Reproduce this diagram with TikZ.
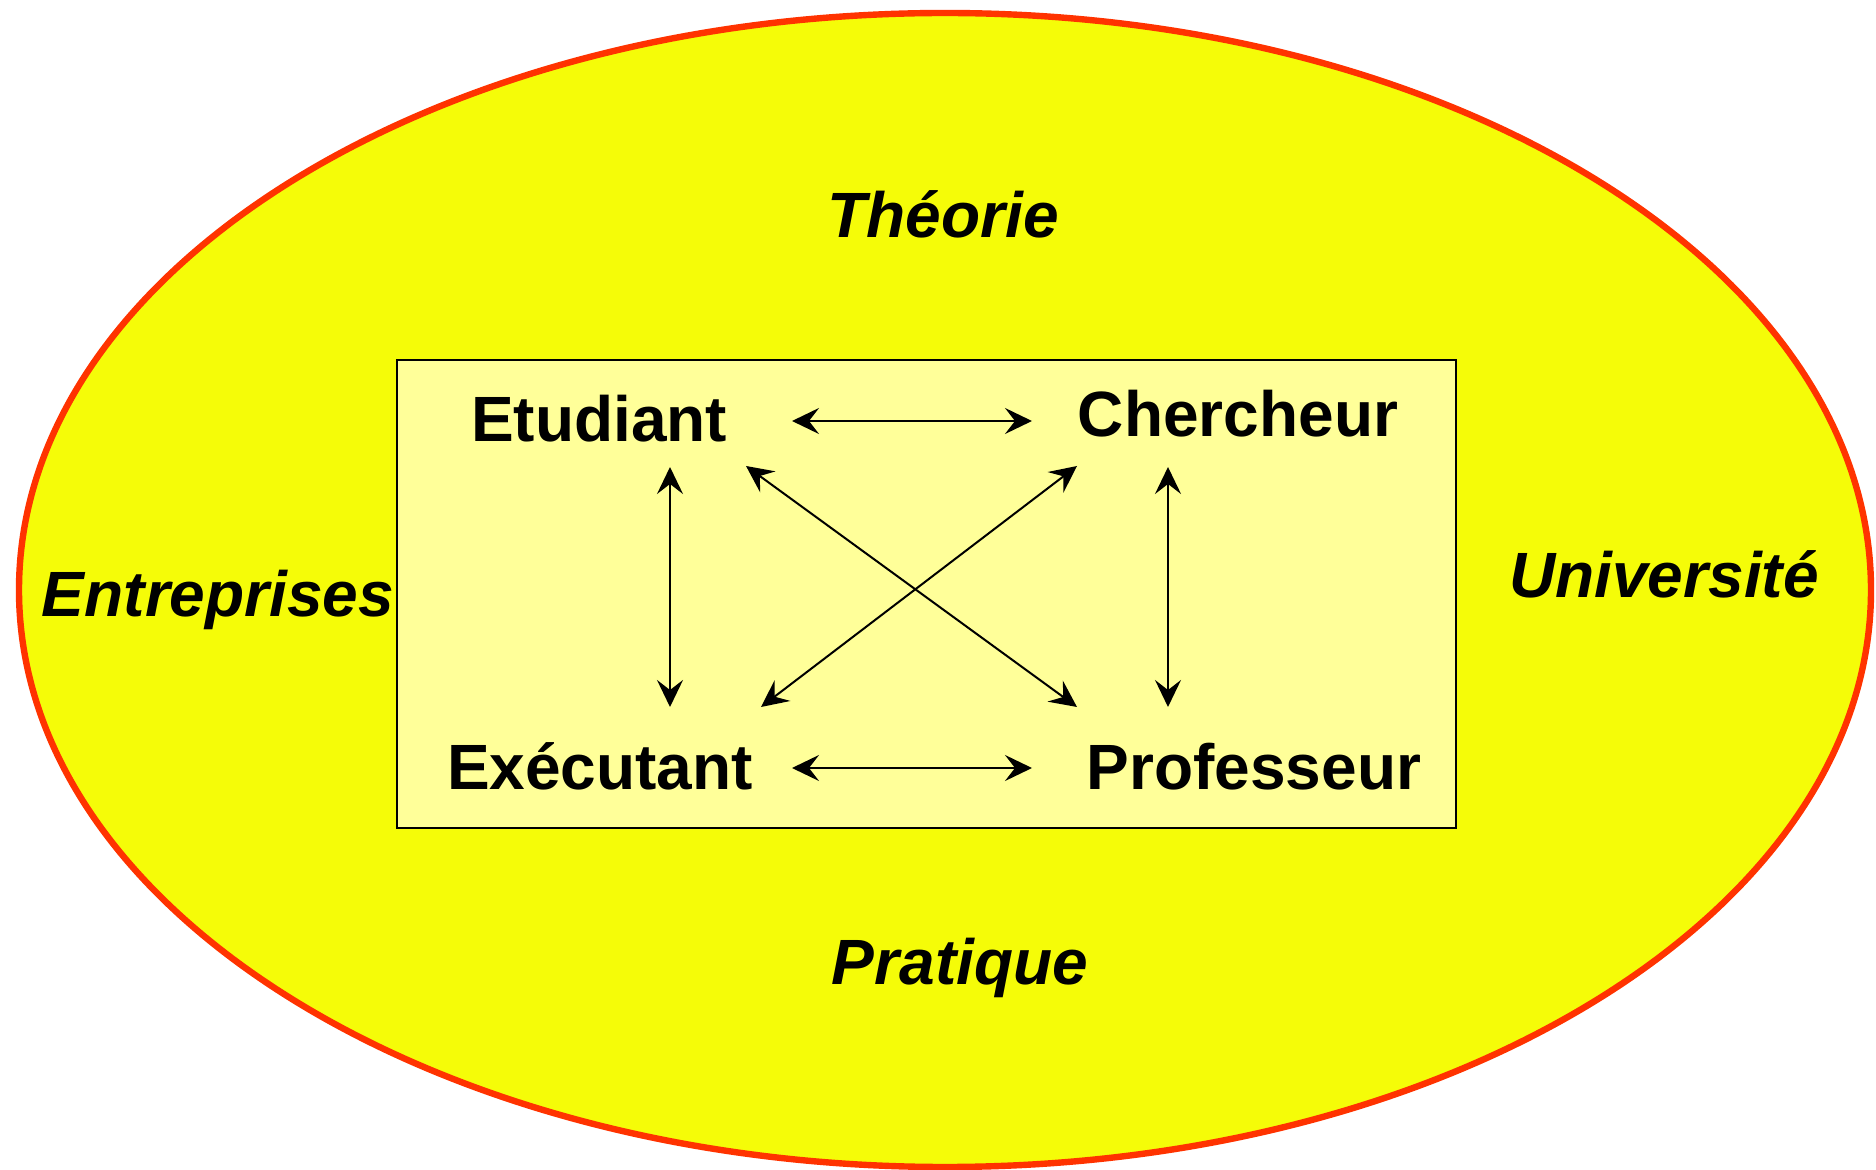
\documentclass[tikz,border=0pt]{standalone}
\usepackage{fontspec}
\setmainfont{Liberation Sans}
\usetikzlibrary{arrows.meta}
\definecolor{ellfill}{RGB}{245,252,8}
\definecolor{ellline}{RGB}{255,51,0}
\definecolor{boxfill}{RGB}{255,255,153}
\tikzset{
  role/.style={anchor=base, font=\fontsize{32pt}{36pt}\selectfont\bfseries, inner sep=0pt},
  field/.style={anchor=base, font=\fontsize{32pt}{36pt}\selectfont\bfseries\itshape, inner sep=0pt},
  link/.style={line width=1pt, {Stealth[length=13.5pt,width=13pt,inset=5pt]}-{Stealth[length=13.5pt,width=13pt,inset=5pt]}}
}
\begin{document}
\begin{tikzpicture}[x=0.5pt,y=-0.5pt]
\useasboundingbox (0,0) rectangle (1876,1170);
\draw[fill=ellfill, draw=ellline, line width=3.2pt] (945,590) ellipse [x radius=926, y radius=577];
\draw[fill=boxfill, draw=black, line width=1pt] (397,360) rectangle (1456,828);
\node[field] (theorie) at (943,238) {Théorie};
\node[field] (entreprises) at (218,617) {Entreprises};
\node[field] (universite) at (1664,598) {Université};
\node[field] (pratique) at (960,985) {Pratique};
\node[role] (etudiant) at (599,442) {Etudiant};
\node[role] (chercheur) at (1238,437) {Chercheur};
\node[role] (executant) at (600,790) {Exécutant};
\node[role] (professeur) at (1254,790) {Professeur};
\coordinate (eR) at (792,421);
\coordinate (cL) at (1032,421);
\coordinate (xR) at (792,768);
\coordinate (pL) at (1032,768);
\coordinate (eB) at (670,467);
\coordinate (xT) at (670,707);
\coordinate (cB) at (1168,467);
\coordinate (pT) at (1168,707);
\coordinate (eD) at (746,466);
\coordinate (pD) at (1077,707);
\coordinate (cD) at (1077,466);
\coordinate (xD) at (761,707);
\draw[link] (eR) -- (cL);
\draw[link] (xR) -- (pL);
\draw[link] (eB) -- (xT);
\draw[link] (cB) -- (pT);
\draw[link] (eD) -- (pD);
\draw[link] (cD) -- (xD);
\end{tikzpicture}
\end{document}
